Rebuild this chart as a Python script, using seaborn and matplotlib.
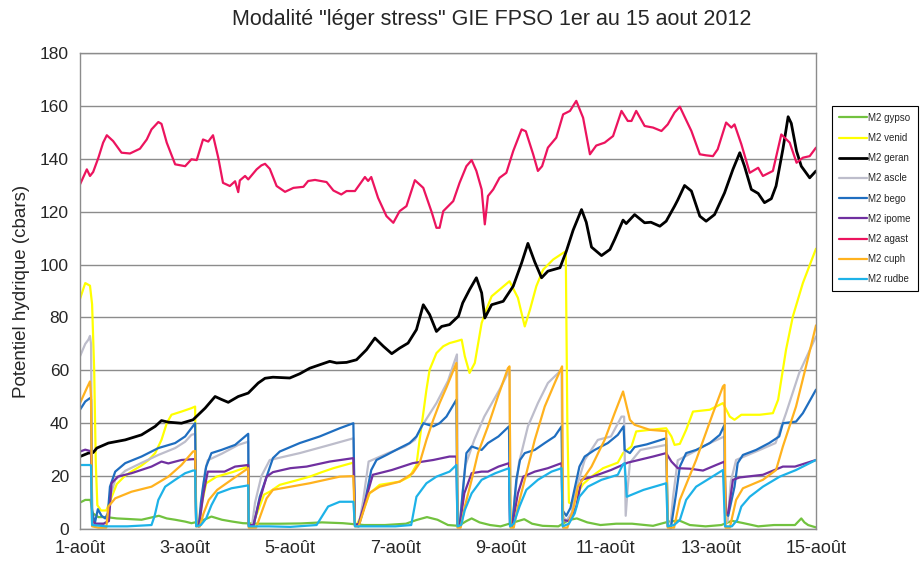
import matplotlib
matplotlib.use("Agg")
import matplotlib.pyplot as plt
import seaborn as sns
import pandas as pd

# days since 1 August 2012 (0 = 1-août) and water potential (cbars)
gypso_t = [0, 0.1, 0.2, 0.24, 0.35, 0.5, 0.7, 0.9, 1.17, 1.5, 1.65, 1.81, 2.0, 2.12, 2.3, 2.5, 2.7, 2.9,
           3.1, 3.4, 3.8, 4.2, 4.6, 5.0, 5.4, 5.8, 6.2, 6.4, 6.6, 6.8, 7.0, 7.2, 7.35, 7.45, 7.6, 7.8, 8.0,
           8.3, 8.45, 8.6, 8.8, 9.1, 9.3, 9.45, 9.65, 9.9, 10.2, 10.5, 10.9, 11.2, 11.4, 11.6, 11.9, 12.2,
           12.4, 12.6, 12.9, 13.2, 13.6, 13.72, 13.78, 13.85, 14.0]
gypso_v = [10, 11, 11, 6, 4.5, 4.5, 4, 3.8, 3.5, 5, 4, 3.5, 2.8, 2.2, 3, 4.7, 3.5, 2.8,
           2.2, 2, 2, 2.1, 2.5, 2.2, 1.5, 1.5, 2, 3.4, 4.5, 3.5, 1.5, 1.2, 3, 4, 2.5, 1.5, 1,
           2.8, 3.7, 2, 1.2, 1, 3.4, 4, 2.5, 1.5, 2, 2, 1.2, 2.8, 3.2, 1.5, 1, 1.5,
           3.1, 2.3, 1, 1.5, 1.5, 4, 2.5, 1.5, 0.6]

venid_t = [0, 0.1, 0.19, 0.23, 0.27, 0.3, 0.33, 0.4, 0.5, 0.6, 0.7, 0.85, 1.0, 1.17, 1.3, 1.43, 1.55, 1.65,
           1.74, 1.93, 2.12, 2.19, 2.21, 2.26, 2.3, 2.4, 2.6, 2.9, 3.2, 3.21, 3.25, 3.35, 3.5, 3.61, 3.8,
           4.1, 4.37, 4.6, 4.82, 5.2, 5.23, 5.26, 5.35, 5.51, 5.7, 6.08, 6.27, 6.4, 6.46, 6.53, 6.59, 6.65,
           6.78, 6.91, 7.03, 7.16, 7.26, 7.32, 7.41, 7.51, 7.64, 7.73, 7.83, 7.98, 8.17, 8.33, 8.46, 8.56,
           8.68, 8.81, 9.0, 9.19, 9.24, 9.27, 9.3, 9.35, 9.45, 9.57, 9.73, 9.95, 10.23, 10.33, 10.49, 10.58,
           10.84, 11.15, 11.25, 11.31, 11.41, 11.53, 11.66, 11.98, 12.23, 12.36, 12.45, 12.58, 12.93, 13.18,
           13.28, 13.43, 13.56, 13.75, 14.0]
venid_v = [87, 93, 92, 85, 60, 25, 9, 7, 7, 12, 17, 20, 22, 24, 26, 28.7, 33.7, 40,
           43.2, 44.4, 45.7, 46.3, 3, 2, 8, 17.3, 19.8, 21.5, 23.6, 2, 1, 5, 13, 14.1, 16.7,
           18.3, 19.8, 21.5, 23, 25.1, 2, 1.5, 5, 13.5, 16.7, 17.9, 19.8, 24.2, 33.7, 43.8, 52.7, 60.2,
           66.5, 69.1, 70.3, 71, 71.6, 65.3, 59, 62.8, 77.9, 83, 88, 90.5, 93.7, 87.4, 76.6, 83,
           91.8, 98.1, 101.9, 104.4, 105, 40, 10, 9.5, 13, 17, 19.8, 23, 25.1, 28.7, 31.2, 36.9,
           37.5, 38.1, 35, 31.8, 32.2, 37.5, 44.4, 45.1, 47.6, 42.5, 41.3, 43.2, 43.2, 43.8,
           48.9, 67.8, 80.4, 93, 106]

geran_t = [0, 0.16, 0.25, 0.32, 0.54, 0.86, 1.17, 1.43, 1.55, 1.68, 1.93, 2.15, 2.38, 2.57, 2.69, 2.82,
           3.01, 3.2, 3.39, 3.52, 3.67, 3.99, 4.18, 4.37, 4.56, 4.75, 4.88, 5.07, 5.26, 5.45, 5.61, 5.77,
           5.93, 6.08, 6.24, 6.4, 6.53, 6.65, 6.78, 6.88, 7.03, 7.2, 7.28, 7.41, 7.54, 7.64, 7.7, 7.83,
           8.05, 8.24, 8.4, 8.52, 8.65, 8.78, 8.9, 9.13, 9.25, 9.38, 9.54, 9.63, 9.73, 9.92, 10.08, 10.17,
           10.33, 10.39, 10.55, 10.74, 10.86, 11.03, 11.15, 11.31, 11.37, 11.5, 11.63, 11.79, 11.91, 12.07,
           12.26, 12.42, 12.55, 12.64, 12.77, 12.9, 13.02, 13.15, 13.24, 13.37, 13.47, 13.53, 13.63, 13.72,
           13.88, 14.0]
geran_v = [27.4, 28.7, 28.9, 30.6, 32.5, 33.7, 35.6, 38.8, 41, 40.4, 40, 41.3, 45.7, 50.1, 49, 47.9,
           50.1, 51.4, 55.2, 57, 57.4, 57.1, 58.7, 60.8, 62.1, 63.4, 62.8, 63, 64, 67.8, 72.2, 69.1,
           66.3, 68.4, 70.3, 75.4, 84.8, 81.1, 74.7, 76.6, 77.3, 80.5, 85.5, 90.5, 95, 89.3, 79.8, 84.8,
           86.1, 91.8, 100.6, 108, 101, 95, 97.5, 98.8, 105, 113, 120.8, 116, 106.6, 103.4, 105.7, 109.5,
           116.8, 115.5, 118.9, 115.8, 116, 114.5, 116.4, 122.1, 124.4, 129.9, 127.8, 118.3, 116.4, 118.9,
           127.1, 136, 142.3, 137.2, 128.4, 126.9, 123.4, 124.9, 129.7, 143.6, 155.9, 153.4, 142.9, 137.2,
           132.8, 135.4]

ascle_t = [0, 0.1, 0.16, 0.19, 0.21, 0.23, 0.3, 0.45, 0.52, 0.57, 0.67, 0.86, 1.17, 1.49, 1.81, 2.0,
           2.12, 2.19, 2.21, 2.28, 2.32, 2.38, 2.43, 2.7, 3.01, 3.2, 3.21, 3.27, 3.33, 3.45, 3.61, 4.18,
           4.75, 5.2, 5.23, 5.3, 5.38, 5.49, 5.86, 6.18, 6.37, 6.5, 6.78, 7.0, 7.1, 7.17, 7.19, 7.23,
           7.27, 7.33, 7.5, 7.69, 7.98, 8.14, 8.17, 8.19, 8.23, 8.27, 8.35, 8.52, 8.71, 8.9, 9.16, 9.18,
           9.25, 9.35, 9.45, 9.6, 9.85, 10.1, 10.3, 10.35, 10.38, 10.42, 10.46, 10.66, 11.15, 11.18, 11.23,
           11.28, 11.37, 11.63, 11.98, 12.26, 12.27, 12.32, 12.38, 12.48, 12.93, 13.23, 13.43, 13.68, 14.0]
ascle_v = [65.3, 70, 71.6, 73, 70, 3, 2, 2, 3, 12, 18.6, 22, 25, 28, 30.6, 33,
           35.6, 36, 1.5, 1, 12, 22, 26, 28.5, 31.8, 33, 1.5, 1, 10, 20, 26.1, 28.7,
           31.8, 34.3, 1.5, 1, 10, 25.5, 28.7, 31.2, 33.7, 38.8, 47.6, 56, 62, 66, 1.5, 1,
           12, 24, 33.7, 42.5, 52.7, 59, 60, 1.5, 1, 12, 25, 38.8, 47.6, 55.2, 60.2, 5,
           3, 6, 16, 26.1, 33.7, 35, 42.5, 42.5, 5, 16, 25, 29.9, 31.8, 1.5, 1,
           12, 26, 28.7, 32.5, 35, 2, 3, 18, 26.1, 29.9, 32.5, 43.8, 59, 72.8]

bego_t = [0, 0.1, 0.19, 0.21, 0.23, 0.28, 0.34, 0.41, 0.48, 0.53, 0.57, 0.67, 0.86, 1.17, 1.49, 1.81,
          2.0, 2.19, 2.21, 2.26, 2.3, 2.34, 2.4, 2.5, 2.69, 2.95, 3.14, 3.2, 3.21, 3.3, 3.42, 3.55, 3.67,
          3.8, 4.18, 4.56, 4.94, 5.2, 5.23, 5.3, 5.39, 5.54, 5.64, 5.83, 6.08, 6.27, 6.4, 6.53, 6.72,
          6.84, 6.97, 7.16, 7.18, 7.22, 7.29, 7.35, 7.45, 7.64, 7.76, 7.96, 8.16, 8.18, 8.22, 8.3, 8.37,
          8.46, 8.65, 8.84, 9.03, 9.16, 9.18, 9.25, 9.33, 9.5, 9.6, 9.79, 10.04, 10.23, 10.34, 10.36,
          10.46, 10.55, 10.78, 11.15, 11.18, 11.24, 11.34, 11.41, 11.53, 11.72, 11.98, 12.17, 12.26,
          12.27, 12.33, 12.45, 12.51, 12.61, 12.86, 13.11, 13.3, 13.37, 13.62, 13.75, 14.0]
bego_v = [45.1, 48.2, 49.5, 49, 7, 2, 7.5, 5, 4, 6, 16, 21.7, 24.9, 27.4, 30.6, 32.5,
          35, 40, 1.5, 1, 10, 16, 23.6, 28.7, 29.9, 31.8, 35, 36, 1, 1, 12.2, 19.8, 26.8,
          29.3, 32.5, 35, 38.1, 40, 1.5, 1, 7.2, 22.3, 26.1, 28, 30.6, 32.5, 35, 40, 38.8,
          40, 42.5, 48.9, 1.5, 1, 16, 28.7, 31.2, 29.9, 32.5, 35, 38.8, 1.5, 1, 18.6, 26.1,
          28.7, 29.9, 32.5, 35, 38.8, 7, 5, 8, 23.6, 27.4, 29.9, 32.5, 35.6, 38.8, 29.9,
          28.7, 31, 32, 34.3, 1, 0.5, 13.5, 23.6, 28.7, 29.9, 32.5, 35.6, 39.4,
          5.9, 5, 16, 24.9, 28, 29.9, 32.5, 35, 40, 40.6, 43.8, 52.7]

ipome_t = [0, 0.1, 0.19, 0.21, 0.23, 0.3, 0.45, 0.55, 0.6, 0.72, 0.98, 1.36, 1.55, 1.68, 1.93, 2.15,
           2.19, 2.21, 2.26, 2.35, 2.43, 2.75, 2.95, 3.2, 3.21, 3.3, 3.4, 3.55, 3.67, 4.0, 4.31, 4.75,
           5.2, 5.23, 5.3, 5.45, 5.57, 5.93, 6.33, 6.72, 7.03, 7.16, 7.18, 7.23, 7.31, 7.45, 7.64, 7.76,
           7.96, 8.16, 8.18, 8.23, 8.33, 8.43, 8.65, 8.9, 9.16, 9.18, 9.3, 9.44, 9.54, 9.75, 10.1, 10.42,
           10.9, 11.15, 11.25, 11.37, 11.6, 11.85, 12.1, 12.26, 12.29, 12.33, 12.42, 12.55, 12.99, 13.37,
           13.6, 14.0]
ipome_v = [29.3, 30, 29.5, 29, 3, 2, 2, 3, 17.3, 19.8, 21.1, 23.6, 25.5, 24.8, 26.1, 26.4,
           26.4, 1.5, 1, 13.5, 21.7, 21.7, 23.6, 24.2, 1.5, 1.5, 9.7, 19.8, 21.5, 23, 23.6, 25.5,
           26.8, 1.5, 2, 12.2, 20.5, 22.3, 24.9, 26.1, 27.4, 27.4, 1.5, 2, 13.5, 21.1, 21.7, 21.7,
           23.6, 24.9, 1.5, 2, 13.5, 19.8, 21.7, 23, 24.9, 3.4, 3, 8.5, 18.6, 19.8, 22.3, 25.1,
           27.4, 28.7, 25.5, 23, 22.8, 22.1, 24.2, 25.5, 5.9, 6, 18.6, 19.5, 20.5, 23.6,
           23.6, 26.1]

agast_t = [0, 0.13, 0.19, 0.25, 0.35, 0.44, 0.51, 0.63, 0.79, 0.95, 1.14, 1.27, 1.36, 1.49, 1.55, 1.65,
           1.81, 2.0, 2.12, 2.22, 2.34, 2.44, 2.53, 2.63, 2.72, 2.85, 2.95, 3.01, 3.04, 3.14, 3.2, 3.36,
           3.45, 3.52, 3.61, 3.74, 3.9, 4.06, 4.25, 4.34, 4.47, 4.69, 4.82, 4.97, 5.07, 5.23, 5.42, 5.48,
           5.54, 5.67, 5.83, 5.96, 6.08, 6.21, 6.37, 6.53, 6.69, 6.78, 6.84, 6.91, 7.1, 7.22, 7.35, 7.45,
           7.54, 7.64, 7.7, 7.76, 7.86, 7.98, 8.11, 8.24, 8.4, 8.48, 8.62, 8.71, 8.79, 8.9, 9.06, 9.19,
           9.32, 9.44, 9.57, 9.7, 9.82, 9.98, 10.14, 10.3, 10.42, 10.49, 10.58, 10.74, 10.9, 11.06, 11.18,
           11.31, 11.41, 11.5, 11.63, 11.79, 11.91, 12.04, 12.13, 12.29, 12.39, 12.45, 12.58, 12.74, 12.9,
           12.99, 13.18, 13.34, 13.5, 13.63, 13.75, 13.88, 14.0]
agast_v = [130.3, 136, 133.5, 135, 140.4, 146.1, 148.9, 146.7, 142.3, 142, 143.8, 147.3, 151.1, 153.9, 153.2, 146.1,
           137.9, 137.2, 139.8, 139.5, 147.3, 146.5, 148.9, 140.4, 130.9, 129.7, 131.5, 127.4, 131.8, 133.5, 132.2, 136,
           137.5, 138.1, 136.2, 129.7, 127.5, 129, 129.4, 131.6, 132, 131.2, 128, 126.5, 127.8, 127.8, 133.1, 131.6,
           133.1, 125.2, 118.3, 115.8, 120.2, 122.1, 131.9, 129, 119.8, 113.9, 113.9, 120.2, 124, 130.9, 137.2, 139.5,
           135.4, 128.4, 115.2, 125.9, 128.4, 132.8, 134.7, 142.9, 151.1, 150.4, 141.7, 135.4, 137.2, 144.2, 148, 156.8,
           158.1, 161.9, 155.5, 141.7, 145, 146.1, 148.6, 158.1, 154.3, 154.3, 158.1, 152.4, 151.8, 150.5, 153,
           157.5, 159.7, 155.9, 150.5, 141.7, 141.3, 141, 143.6, 153.7, 151.8, 153, 145.5, 134.7, 136.6,
           133.5, 135.4, 149.2, 146.1, 138.5, 140.4, 141, 144.2]

cuph_t = [0, 0.13, 0.19, 0.21, 0.23, 0.35, 0.5, 0.54, 0.67, 0.98, 1.36, 1.68, 1.93, 2.15, 2.19, 2.21,
          2.28, 2.35, 2.45, 2.61, 2.88, 3.2, 3.21, 3.35, 3.55, 3.67, 4.37, 4.94, 5.2, 5.23, 5.3, 5.5,
          5.7, 6.08, 6.33, 6.46, 6.59, 6.72, 6.84, 6.97, 7.16, 7.18, 7.24, 7.32, 7.45, 7.57, 7.76, 7.95,
          8.14, 8.17, 8.19, 8.25, 8.33, 8.46, 8.65, 8.84, 9.03, 9.17, 9.19, 9.27, 9.38, 9.47, 9.73, 9.98,
          10.17, 10.33, 10.46, 10.55, 10.84, 11.15, 11.18, 11.3, 11.41, 11.72, 12.04, 12.23, 12.26, 12.28,
          12.36, 12.48, 12.61, 12.99, 13.24, 13.37, 13.62, 13.81, 14.0]
cuph_v = [47.6, 53.3, 55.8, 50, 1, 0.5, 0.5, 8.5, 11.6, 14.1, 16, 19.8, 24.2, 29.3, 29.5, 1,
          1, 5.9, 11, 14.8, 18.6, 23, 0.5, 0.5, 11.6, 14.8, 17.3, 19.8, 20, 1, 1, 13.5,
          16, 17.9, 21.1, 24.9, 33.7, 41.3, 47.6, 53.5, 62.8, 0.5, 0.5, 8.5, 18.6, 28.7, 38.8, 50.1,
          60.8, 61.5, 0.5, 0.5, 8.5, 18.6, 33.7, 46.3, 55.2, 61.5, 0.5, 0.5, 7.2, 16, 23.6, 33.7,
          43.8, 52, 41.3, 39.4, 37.5, 37, 0.5, 0.5, 11, 26.1, 43.8, 53.9, 54.5, 0.5,
          0.5, 11, 15.4, 18.6, 22.3, 31.2, 46.3, 61.5, 77]

rudbe_t = [0, 0.19, 0.21, 0.23, 0.5, 0.9, 1.36, 1.42, 1.49, 1.62, 1.81, 2.0, 2.15, 2.19, 2.21, 2.3,
           2.4, 2.5, 2.62, 2.88, 3.2, 3.21, 3.6, 4.0, 4.5, 4.56, 4.72, 4.94, 5.2, 5.23, 5.6, 6.0, 6.3,
           6.4, 6.59, 6.78, 7.03, 7.16, 7.18, 7.25, 7.32, 7.45, 7.64, 7.9, 8.16, 8.18, 8.25, 8.36, 8.49,
           8.71, 8.97, 9.16, 9.18, 9.3, 9.41, 9.5, 9.66, 9.92, 10.23, 10.33, 10.36, 10.4, 10.72, 11.15,
           11.18, 11.3, 11.41, 11.53, 11.72, 11.98, 12.23, 12.27, 12.4, 12.5, 12.58, 12.74, 12.99, 13.31,
           13.62, 14.0]
rudbe_v = [24.2, 24.2, 24, 1.5, 1, 1, 1.5, 5, 11, 16, 18.6, 21.1, 22.1, 22.1, 1, 1.5,
           4, 9, 13.5, 15.4, 16.5, 1, 1, 0.8, 1.5, 3.4, 8.5, 10.3, 10.3, 1, 1, 1, 1.5,
           12.2, 17.3, 19.8, 21.7, 24.2, 1, 1.5, 7.2, 13.5, 18.6, 21.1, 23, 1, 2, 8.5, 14.8,
           18.6, 21.7, 23, 1, 2, 5.9, 12.2, 16, 18.6, 20.5, 24.5, 24.9, 12.2, 14.8, 17.3,
           1, 1.5, 3.4, 11, 16, 19.2, 22.3, 1, 1, 3.4, 8.5, 12.2, 16, 19.8,
           22.3, 26.1]

series_names = ["M2 gypso", "M2 venid", "M2 geran", "M2 ascle", "M2 bego",
                "M2 ipome", "M2 agast", "M2 cuph", "M2 rudbe"]
series_colors = ["#72C23F", "#FFFF00", "#000000", "#BDBDCB", "#1F6EC0",
                 "#7030A0", "#EC145E", "#FFB21E", "#1DB2E8"]
series_data = [(gypso_t, gypso_v), (venid_t, venid_v), (geran_t, geran_v), (ascle_t, ascle_v),
               (bego_t, bego_v), (ipome_t, ipome_v), (agast_t, agast_v), (cuph_t, cuph_v),
               (rudbe_t, rudbe_v)]

day_ticks = [0, 2, 4, 6, 8, 10, 12, 14]
day_labels = ["1-août", "3-août", "5-août", "7-août", "9-août", "11-août", "13-août", "15-août"]
y_ticks = [0, 20, 40, 60, 80, 100, 120, 140, 160, 180]

sns.set_style("white")
plt.rcParams['font.family'] = ['Liberation Sans', 'DejaVu Sans']

fig = plt.figure(figsize=(9.24, 5.63), dpi=100)
ax = fig.add_axes([80 / 924, 1 - 529 / 563, 736 / 924, 476 / 563])

for name, color, (t, v) in zip(series_names, series_colors, series_data):
    df = pd.DataFrame({'jour': t, 'potentiel': v})
    lw = 2.0 if name == "M2 geran" else 1.6
    sns.lineplot(data=df, x='jour', y='potentiel', color=color, linewidth=lw,
                 estimator=None, sort=False, label=name, ax=ax)

ax.set_xlim(0, 14)
ax.set_ylim(0, 180)
ax.set_xticks(day_ticks)
ax.set_xticklabels(day_labels, fontsize=13)
ax.set_yticks(y_ticks)
ax.set_yticklabels([str(y) for y in y_ticks], fontsize=12.5)
ax.set_xlabel("")
ax.set_ylabel("Potentiel hydrique (cbars)", fontsize=13.5, labelpad=7)
ax.yaxis.grid(True, color='#8C8C8C', linewidth=1.0)
ax.xaxis.grid(False)
ax.set_axisbelow(True)
for s in ax.spines.values():
    s.set_color('#8C8C8C')
    s.set_linewidth(1.0)
ax.tick_params(axis='both', direction='out', length=4, color='#8C8C8C', width=1, pad=4)

fig.text(492 / 924, 1 - 20 / 563, 'Modalité "léger stress" GIE FPSO 1er au 15 aout 2012',
         ha='center', va='center', fontsize=15.5)

leg = ax.legend(loc='upper left', bbox_to_anchor=(832 / 924, 1 - 106 / 563),
                bbox_transform=fig.transFigure, fontsize=7, frameon=True, fancybox=False,
                edgecolor='black', framealpha=1, borderaxespad=0, labelspacing=1.05,
                handlelength=2.9, handletextpad=0.15, borderpad=0.7)
leg.get_frame().set_linewidth(0.8)

fig.savefig("out.png", dpi=100)
